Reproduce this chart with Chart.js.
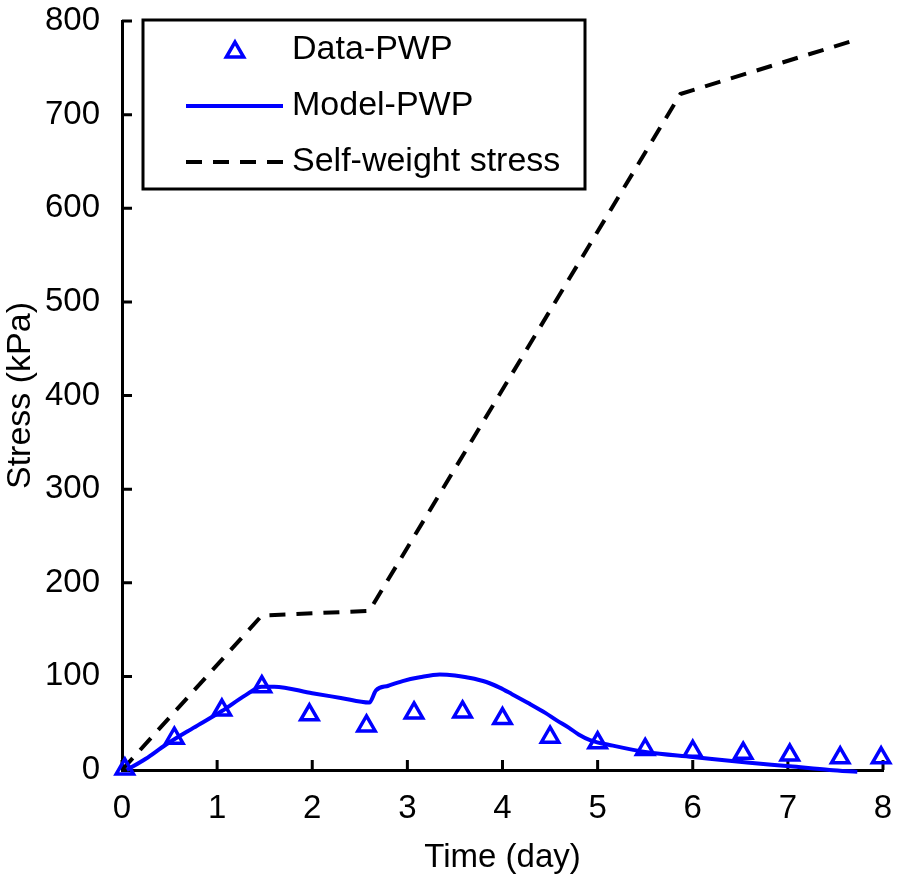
<!DOCTYPE html>
<html>
<head>
<meta charset="utf-8">
<script src="https://cdn.jsdelivr.net/npm/chart.js@4.4.0/dist/chart.umd.min.js"></script>
<style>
  html, body { margin: 0; padding: 0; background: #fff; }
  #wrap { width: 898px; height: 878px; }
</style>
</head>
<body>
<div id="wrap"><canvas id="chart" width="898" height="878"></canvas></div>
<script>
// measured pore water pressure (triangles)
const dataDay = [0.03, 0.55, 1.05, 1.47, 1.97, 2.57, 3.07, 3.58, 4.0, 4.5, 5.0, 5.5, 6.0, 6.53, 7.02, 7.55, 7.98]
const dataPwp = [1, 34, 64, 89, 59, 47, 61, 62, 55, 35, 29, 22, 20, 18, 16, 13, 13]

// model pore water pressure (solid line)
const modelDay = [0.05, 0.25, 0.46, 0.75, 1.05, 1.3, 1.47, 1.6, 2.0, 2.3, 2.6, 2.67, 2.8, 2.95, 3.13, 3.34, 3.5, 3.62, 3.83, 3.97, 4.1, 4.28, 4.45, 4.57, 4.7, 4.8, 4.92, 5.16, 5.52, 6.0, 6.57, 7.02, 7.44, 7.73]
const modelPwp = [0, 12, 27, 45, 63, 80, 89, 89, 82, 77, 72, 85, 90, 95, 99, 102, 101, 99, 94, 88, 81, 71, 61, 53, 45, 38, 32, 26, 19, 14, 8, 4, 0, -2]

// self-weight stress (dashed line)
const swDay = [0, 1.47, 2.6, 5.87, 7.75]
const swStress = [0, 165, 170, 722, 781]

const xTicks = { min: 0, max: 8, step: 1 }
const yTicks = { min: 0, max: 800, step: 100 }

const font = 'Liberation Sans, Arial, sans-serif'

function points(xs, ys) {
  return xs.map((x, i) => ({ x, y: ys[i] }))
}

const innerTicks = {
  id: 'innerTicks',
  beforeDatasetsDraw(chart) {
    const { ctx, chartArea: a, scales: { x, y } } = chart
    ctx.save()
    ctx.strokeStyle = '#000'
    ctx.lineWidth = 3
    ctx.beginPath()
    x.ticks.forEach((t) => {
      const px = x.getPixelForValue(t.value)
      ctx.moveTo(px, a.bottom)
      ctx.lineTo(px, a.bottom - 10)
    })
    y.ticks.forEach((t) => {
      const py = y.getPixelForValue(t.value)
      ctx.moveTo(a.left, py)
      ctx.lineTo(a.left + 10, py)
    })
    ctx.stroke()
    ctx.restore()
  },
}

function triangle(ctx, cx, cy, r) {
  ctx.beginPath()
  for (let k = 0; k < 3; k++) {
    const ang = k * 2 * Math.PI / 3
    const px = cx + Math.sin(ang) * r
    const py = cy - Math.cos(ang) * r
    if (k === 0)
      ctx.moveTo(px, py)
    else
      ctx.lineTo(px, py)
  }
  ctx.closePath()
}

const boxLegend = {
  id: 'boxLegend',
  afterDatasetsDraw(chart) {
    const ctx = chart.ctx
    const box = { left: 143, top: 20, right: 585, bottom: 189 }
    ctx.save()
    ctx.fillStyle = '#fff'
    ctx.fillRect(box.left, box.top, box.right - box.left, box.bottom - box.top)
    ctx.strokeStyle = '#000'
    ctx.lineWidth = 3
    ctx.strokeRect(box.left, box.top, box.right - box.left, box.bottom - box.top)

    ctx.font = `34px ${font}`
    ctx.textBaseline = 'middle'
    ctx.textAlign = 'left'
    chart.data.datasets.forEach((ds, i) => {
      const yy = 50 + i * 56
      ctx.strokeStyle = ds.borderColor
      ctx.lineWidth = ds.borderWidth
      ctx.setLineDash(ds.borderDash || [])
      if (ds.showLine) {
        ctx.beginPath()
        ctx.moveTo(186, yy)
        ctx.lineTo(283, yy)
        ctx.stroke()
      }
      else {
        triangle(ctx, 235, yy + 2, ds.pointRadius)
        ctx.stroke()
      }
      ctx.setLineDash([])
      ctx.fillStyle = '#000'
      ctx.fillText(ds.label, 292, yy)
    })
    ctx.restore()
  },
}

new Chart(document.getElementById('chart'), {
  type: 'scatter',
  data: {
    datasets: [
      {
        label: 'Data-PWP',
        data: points(dataDay, dataPwp),
        showLine: false,
        pointStyle: 'triangle',
        pointRadius: 10,
        pointBorderWidth: 3.5,
        borderWidth: 3.5,
        borderColor: '#0000ff',
        pointBackgroundColor: 'rgba(0,0,0,0)',
        clip: 12,
      },
      {
        label: 'Model-PWP',
        data: points(modelDay, modelPwp),
        showLine: true,
        borderColor: '#0000ff',
        borderWidth: 4,
        pointRadius: 0,
        cubicInterpolationMode: 'monotone',
        clip: 12,
      },
      {
        label: 'Self-weight stress',
        data: points(swDay, swStress),
        showLine: true,
        borderColor: '#000',
        borderWidth: 4,
        borderDash: [16, 11],
        pointRadius: 0,
        tension: 0,
        clip: 12,
      },
    ],
  },
  options: {
    responsive: false,
    animation: false,
    devicePixelRatio: 1,
    layout: { padding: { top: 21, right: 15, left: 0, bottom: 0 } },
    plugins: {
      legend: { display: false },
      tooltip: { enabled: false },
    },
    scales: {
      x: {
        type: 'linear',
        min: xTicks.min,
        max: xTicks.max,
        grid: { display: false },
        border: { display: true, width: 3, color: '#000' },
        ticks: { stepSize: xTicks.step, color: '#000', padding: 11, font: { family: font, size: 33 } },
        title: { display: true, text: 'Time (day)', color: '#000', padding: 0, font: { family: font, size: 33 } },
        afterFit(scale) {
          scale.height = 108
          scale.paddingLeft = 0
          scale.paddingRight = 0
        },
      },
      y: {
        type: 'linear',
        min: yTicks.min,
        max: yTicks.max,
        grid: { display: false },
        border: { display: true, width: 3, color: '#000' },
        ticks: { stepSize: yTicks.step, color: '#000', padding: 14, font: { family: font, size: 33 } },
        title: { display: true, text: 'Stress (kPa)', color: '#000', padding: 0, font: { family: font, size: 34 } },
        afterFit(scale) {
          scale.width = 122
          scale.paddingTop = 0
          scale.paddingBottom = 0
        },
      },
    },
  },
  plugins: [innerTicks, boxLegend],
})
</script>
</body>
</html>
